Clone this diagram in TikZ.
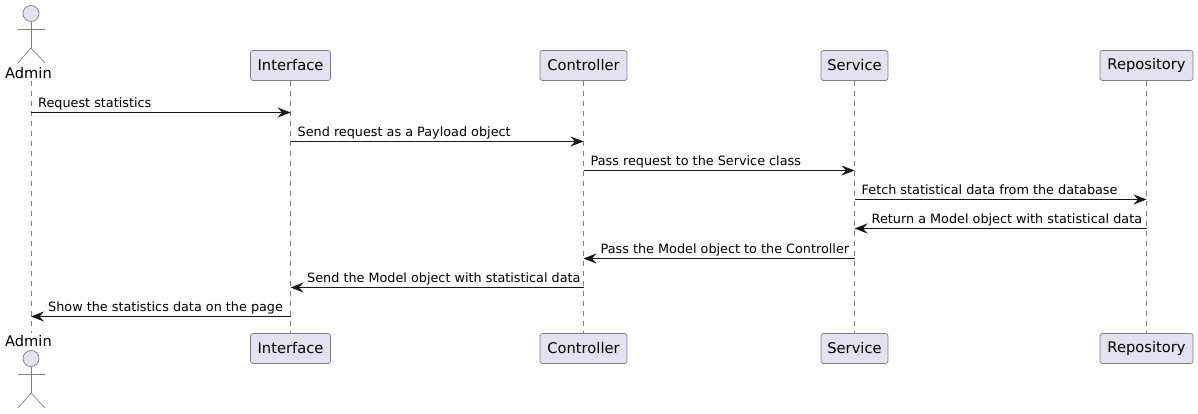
\documentclass[tikz,border=0pt]{standalone}
\usepackage{fontspec}
\setmainfont{DejaVu Sans}
\usetikzlibrary{arrows.meta}
\definecolor{boxfill}{HTML}{E2E2F0}
\definecolor{boxline}{HTML}{7F7F7F}
\definecolor{msgline}{HTML}{181818}

\begin{document}
\begin{tikzpicture}[x=1pt,y=-1pt]
\tikzset{part/.style = {shape=rectangle,draw=boxline,fill=boxfill,rounded corners=2.5pt,line width=0.7pt,minimum height=30pt,inner sep=0pt,font=\fontsize{14.7}{16}\selectfont,text=black}}
\tikzset{actorlabel/.style = {inner sep=0pt,anchor=base,font=\fontsize{14.6}{16}\selectfont}}
\tikzset{msg/.style = {inner sep=0pt,anchor=base west,font=\fontsize{12.8}{15}\selectfont}}
\tikzset{life/.style = {draw=boxline,line width=0.7pt,dash pattern=on 5pt off 5pt}}
\tikzset{limb/.style = {draw=boxline,line width=0.7pt}}
\tikzset{head/.style = {shape=circle,draw=boxline,fill=boxfill,line width=0.7pt,minimum size=16pt,inner sep=0pt}}
\tikzset{edge/.style = {draw=msgline,line width=0.8pt,-{Stealth[length=13pt,width=10pt,inset=4.5pt]}}}
\useasboundingbox (0,0) rectangle (1198,414);

% lifelines ends
\coordinate (at) at (31,81);
\coordinate (ab) at (31,333);

% participants
\node[part,minimum width=80pt] (i) at (290.5,65.5) {Interface};
\node[part,minimum width=87pt] (c) at (583.5,65.5) {Controller};
\node[part,minimum width=67pt] (s) at (854.5,65.5) {Service};
\node[part,minimum width=93pt] (r) at (1146.5,65.5) {Repository};
\node[part,minimum width=80pt] (i2) at (290.5,348.5) {Interface};
\node[part,minimum width=87pt] (c2) at (583.5,348.5) {Controller};
\node[part,minimum width=67pt] (s2) at (854.5,348.5) {Service};
\node[part,minimum width=93pt] (r2) at (1146.5,348.5) {Repository};

% lifelines
\draw[life] (at) to (ab);
\draw[life] (i) to (i2);
\draw[life] (c) to (c2);
\draw[life] (s) to (s2);
\draw[life] (r) to (r2);

% actor on top
\node[head] (h) at (31,13.5) {};
\coordinate (hip) at (31,48);
\coordinate (arml) at (18,29);
\coordinate (armr) at (45,29);
\coordinate (footl) at (18,63);
\coordinate (footr) at (45,63);
\draw[limb] (h) to (hip);
\draw[limb] (arml) to (armr);
\draw[limb] (footl) to (hip);
\draw[limb] (hip) to (footr);
\node[actorlabel] (al) at (28.5,78.5) {Admin};

% actor below
\node[actorlabel] (al2) at (28.5,346.5) {Admin};
\node[head] (h2) at (31,358.5) {};
\coordinate (hip2) at (31,393);
\coordinate (arml2) at (18,374);
\coordinate (armr2) at (45,374);
\coordinate (footl2) at (18,408);
\coordinate (footr2) at (45,408);
\draw[limb] (h2) to (hip2);
\draw[limb] (arml2) to (armr2);
\draw[limb] (footl2) to (hip2);
\draw[limb] (hip2) to (footr2);

% message ends
\coordinate (a1) at (31,112.5);
\coordinate (i1) at (290.5,112.5);
\coordinate (i3) at (290.5,141.5);
\coordinate (c1) at (583.5,141.5);
\coordinate (c3) at (583.5,170.5);
\coordinate (s1) at (854.5,170.5);
\coordinate (s3) at (854.5,199.5);
\coordinate (r1) at (1146.5,199.5);
\coordinate (r3) at (1146.5,228.5);
\coordinate (s4) at (854.5,228.5);
\coordinate (s5) at (854.5,258.5);
\coordinate (c4) at (583.5,258.5);
\coordinate (c5) at (583.5,287.5);
\coordinate (i4) at (290.5,287.5);
\coordinate (i5) at (290.5,316.5);
\coordinate (a2) at (31,316.5);

% messages
\draw[edge] (a1) to (i1);
\draw[edge] (i3) to (c1);
\draw[edge] (c3) to (s1);
\draw[edge] (s3) to (r1);
\draw[edge] (r3) to (s4);
\draw[edge] (s5) to (c4);
\draw[edge] (c5) to (i4);
\draw[edge] (i5) to (a2);

% labels
\node[msg] (m1) at (38,107.5) {Request statistics};
\node[msg] (m2) at (297.5,136.5) {Send request as a Payload object};
\node[msg] (m3) at (590.5,165.5) {Pass request to the Service class};
\node[msg] (m4) at (861.5,194.5) {Fetch statistical data from the database};
\node[msg] (m5) at (871.5,223.5) {Return a Model object with statistical data};
\node[msg] (m6) at (600.5,253.5) {Pass the Model object to the Controller};
\node[msg] (m7) at (307,282.5) {Send the Model object with statistical data};
\node[msg] (m8) at (48,311.5) {Show the statistics data on the page};
\end{tikzpicture}
\end{document}
